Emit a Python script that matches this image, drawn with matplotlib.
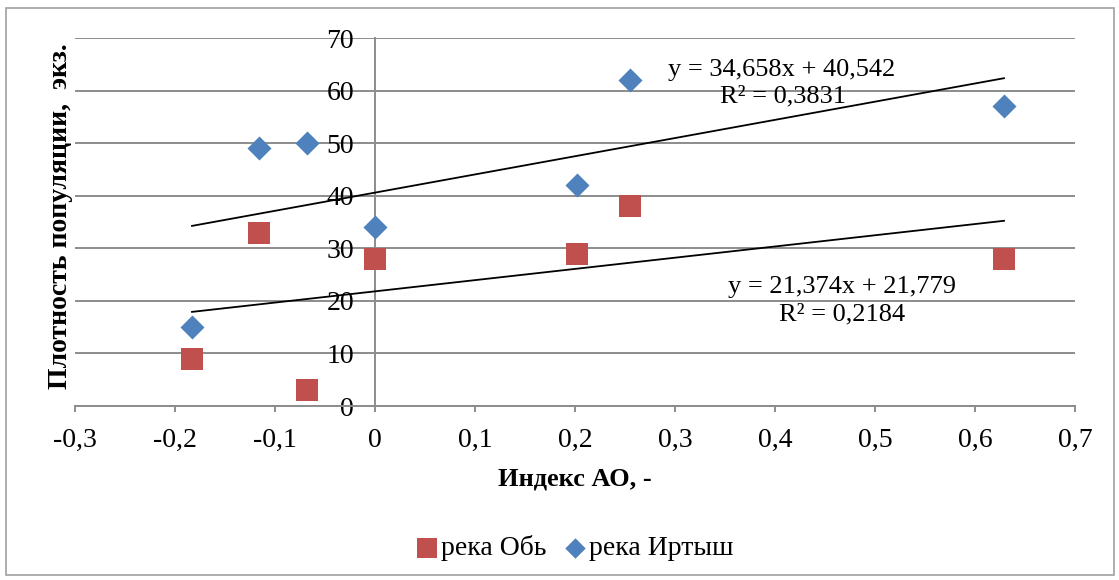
import numpy as np
import matplotlib
matplotlib.use('Agg')
import matplotlib.pyplot as plt
from matplotlib.patches import Rectangle
from matplotlib.ticker import FuncFormatter

# ── data ────────────────────────────────────────────────────────────────
ao_index = [-0.183, -0.116, -0.068, 0.0, 0.202, 0.255, 0.629]
ob_density = [9, 33, 3, 28, 29, 38, 28]
irtysh_density = [15, 49, 50, 34, 42, 62, 57]

x_ticks = [-0.3, -0.2, -0.1, 0.0, 0.1, 0.2, 0.3, 0.4, 0.5, 0.6, 0.7]
y_ticks = [0, 10, 20, 30, 40, 50, 60, 70]

eq_irtysh = ['y = 34,658x + 40,542', 'R² = 0,3831']
eq_ob = ['y = 21,374x + 21,779', 'R² = 0,2184']

RED = '#C0504D'
BLUE = '#4F81BD'
GRID = '#8C8C8C'

plt.rcParams['font.family'] = ['Liberation Serif', 'DejaVu Serif']

fig = plt.figure(figsize=(11.19, 5.80), dpi=100)
ax = fig.add_axes([75 / 1119, 1 - 406 / 580, 1000 / 1119, 368 / 580])

# outer chart frame
fig.patches.append(Rectangle((6 / 1119, 5 / 580), 1108 / 1119, 567 / 580,
                             transform=fig.transFigure, fill=False,
                             edgecolor='#A0A0A0', linewidth=1.2))

ax.set_xlim(-0.3, 0.7)
ax.set_ylim(0, 70)
ax.set_xticks(x_ticks)
ax.set_yticks(y_ticks)
ax.xaxis.set_major_formatter(FuncFormatter(
    lambda v, p: '0' if abs(v) < 1e-9 else f'{v:.1f}'.replace('.', ',')))
ax.yaxis.grid(True, color=GRID, linewidth=1.4)
ax.set_axisbelow(True)

for s in ['top', 'right']:
    ax.spines[s].set_visible(False)
ax.spines['left'].set_position(('data', 0))
ax.spines['left'].set_color(GRID)
ax.spines['left'].set_linewidth(1.4)
ax.spines['bottom'].set_color(GRID)
ax.spines['bottom'].set_linewidth(1.4)

ax.tick_params(axis='y', length=0, pad=15, labelsize=20)
ax.tick_params(axis='x', length=4.5, width=1.4, color=GRID, direction='out',
               pad=11, labelsize=20)

# scatter
ax.scatter(ao_index, ob_density, marker='s', s=260, color=RED, zorder=3,
           linewidths=0, label='река Обь')
ax.scatter(ao_index, irtysh_density, marker='D', s=150, color=BLUE, zorder=3,
           linewidths=0, label='река Иртыш')

# linear trend lines
xs = np.array([min(ao_index), max(ao_index)])
for ys in (irtysh_density, ob_density):
    k, b = np.polyfit(ao_index, ys, 1)
    ax.plot(xs, k * xs + b, color='black', linewidth=1.3, zorder=4)

ax.text(0.407, 64.0, eq_irtysh[0], ha='center', va='center', fontsize=19, zorder=5)
ax.text(0.408, 58.8, eq_irtysh[1], ha='center', va='center', fontsize=19, zorder=5)
ax.text(0.467, 22.6, eq_ob[0], ha='center', va='center', fontsize=19, zorder=5)
ax.text(0.467, 17.5, eq_ob[1], ha='center', va='center', fontsize=19, zorder=5)

ax.set_xlabel('Индекс АО, -', fontsize=19, fontweight='bold', labelpad=11)
fig.text(61 / 1119, 1 - 216 / 580, 'Плотность популяции,  экз.', rotation=90,
         ha='center', va='center', fontsize=20, fontweight='bold')

fig.legend(loc='center', bbox_to_anchor=(574 / 1119, 1 - 548 / 580), ncol=2,
           frameon=False, fontsize=20, handlelength=0.9, handletextpad=0.05,
           columnspacing=0.6, markerscale=0.85)

fig.savefig('out.png', dpi=100)
